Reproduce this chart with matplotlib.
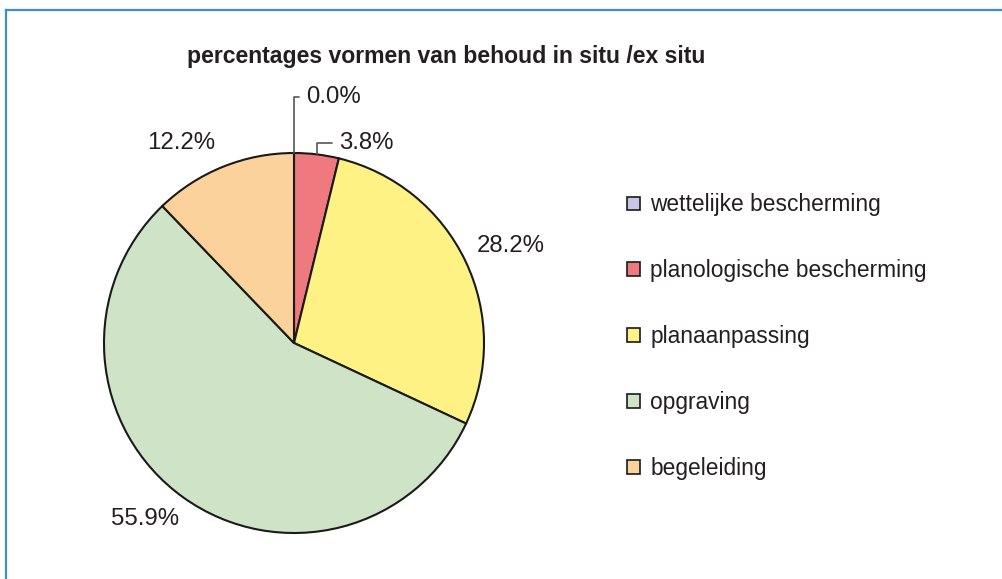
import matplotlib
matplotlib.use("Agg")
import matplotlib.pyplot as plt
import numpy as np
from matplotlib.lines import Line2D

categories = ["wettelijke bescherming", "planologische bescherming",
              "planaanpassing", "opgraving", "begeleiding"]
values = [0.0, 3.8, 28.2, 55.9, 12.2]
labels = ["0.0%", "3.8%", "28.2%", "55.9%", "12.2%"]
colors = ["#c6c8e3", "#ee7a80", "#fff284", "#cfe3c6", "#fbd29b"]
title = "percentages vormen van behoud in situ /ex situ"

plt.rcParams['font.family'] = ['Liberation Sans', 'DejaVu Sans']
txtcol = "#231f20"

fig = plt.figure(figsize=(10.03, 5.79), dpi=100)
# blue frame (top + left)
fig.add_artist(Line2D([6/1003, 1.0], [1-10/579, 1-10/579], transform=fig.transFigure,
                      color="#3b8fd0", lw=1.6))
fig.add_artist(Line2D([6/1003, 6/1003], [0, 1-10/579], transform=fig.transFigure,
                      color="#3b8fd0", lw=1.6))

ax = fig.add_axes([(294-190)/1003, (236-190)/579, 380/1003, 380/579])
wedges, _ = ax.pie(values, colors=colors, startangle=90, counterclock=False,
                   wedgeprops=dict(edgecolor="#1a1a1a", linewidth=1.5))
ax.set_xlim(-1, 1)
ax.set_ylim(-1, 1)
ax.set_aspect('equal')
ax.axis('off')

fs = 17.3
# (radius factor, angle offset in degrees) for plain labels
place = {2: (1.251, -1.5), 3: (1.213, -4.8), 4: (1.209, 7.6)}
for i, (w, lab) in enumerate(zip(wedges, labels)):
    middeg = (w.theta1 + w.theta2) / 2
    mid = np.deg2rad(middeg)
    ex, ey = np.cos(mid), np.sin(mid)
    if i in (0, 1):
        tx = ex + (0.065 if i == 0 else 0.12)
        ty = 1.295 if i == 0 else 1.055
        ax.annotate(lab, xy=(ex, ey), xytext=(tx, ty), textcoords='data',
                    fontsize=fs, color=txtcol, ha='left', va='center',
                    arrowprops=dict(arrowstyle='-', color='#555555', lw=1.2,
                                    connectionstyle='angle,angleA=0,angleB=90,rad=0',
                                    shrinkA=3, shrinkB=0))
    else:
        r, da = place[i]
        a = np.deg2rad(middeg + da)
        ax.text(r*np.cos(a), r*np.sin(a), lab,
                fontsize=fs, color=txtcol, ha='center', va='center')

fig.text(446/1003, 1-57/579, title, fontsize=16.6, fontweight='bold',
         color=txtcol, ha='center', va='center')

leg = fig.legend(wedges, categories, loc='upper left',
                 bbox_to_anchor=(607/1003, 1-173/579), frameon=False,
                 fontsize=16.4, handlelength=0.55, handleheight=0.55,
                 handletextpad=0.45, labelspacing=1.88, labelcolor=txtcol)
for h in leg.legend_handles:
    h.set_linewidth(1.2)
    h.set_edgecolor("#1a1a1a")

fig.savefig("out.png", dpi=100, facecolor='white')
